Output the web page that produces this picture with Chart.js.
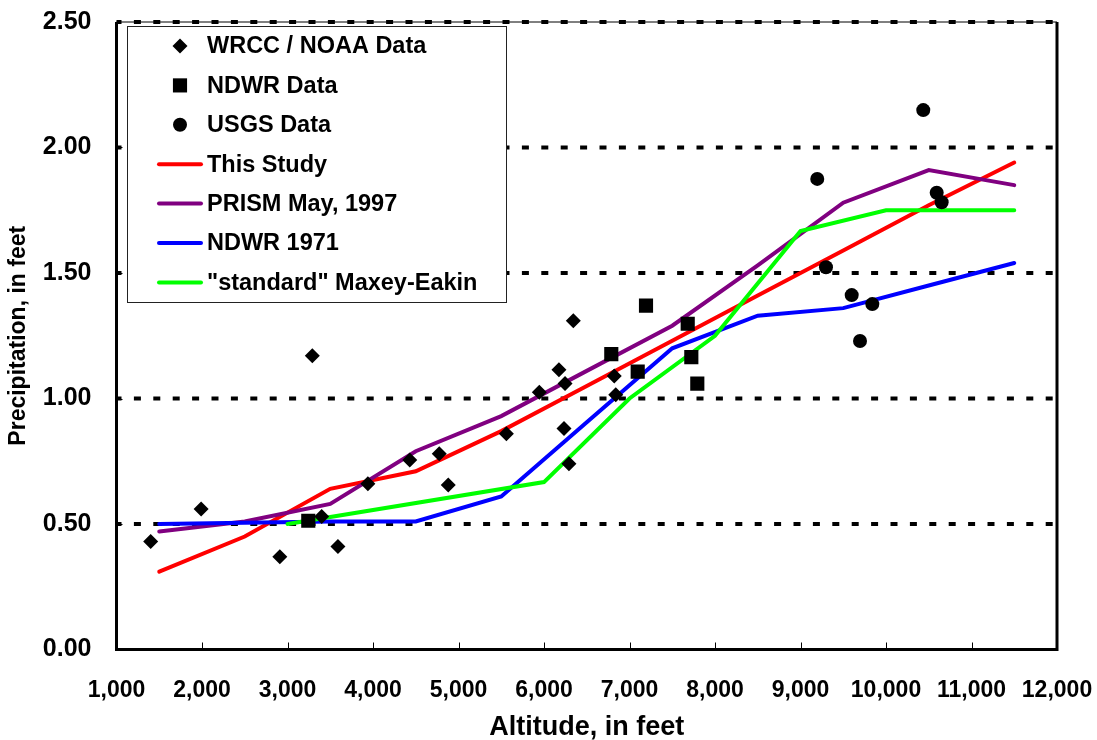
<!DOCTYPE html>
<html>
<head>
<meta charset="utf-8">
<title>Precipitation vs Altitude</title>
<script src="https://cdn.jsdelivr.net/npm/chart.js@4.4.0/dist/chart.umd.min.js"></script>
<style>
  html, body { margin: 0; padding: 0; background: #fff; }
  .chart-wrap { position: relative; width: 1097px; height: 740px; }
</style>
</head>
<body>
<div class="chart-wrap"><canvas id="precipChart"></canvas></div>
<script>
// point data (altitude in feet, precipitation in feet)
const wrccAlt = [1400, 1990, 2910, 3290, 3400, 3590, 3940, 4430, 4775, 4880, 5560, 5945, 6175, 6246, 6234, 6292, 6343, 6822, 6839];
const wrccPrecip = [0.43, 0.56, 0.37, 1.17, 0.53, 0.41, 0.66, 0.755, 0.78, 0.655, 0.86, 1.025, 1.115, 1.06, 0.88, 0.74, 1.31, 1.09, 1.015];

const ndwrAlt = [3243, 6787, 7096, 7193, 7681, 7723, 7793];
const ndwrPrecip = [0.513, 1.177, 1.107, 1.37, 1.298, 1.165, 1.059];

const usgsAlt = [9196, 9298, 9599, 9696, 9840, 10436, 10593, 10651];
const usgsPrecip = [1.875, 1.523, 1.412, 1.229, 1.376, 2.149, 1.82, 1.782];

// curves
const curveAlt = [1500, 2500, 3500, 4500, 5500, 6500, 7500, 8500, 9500, 10500, 11500];
const thisStudy = [0.31, 0.45, 0.64, 0.71, 0.87, 1.05, 1.23, 1.41, 1.59, 1.77, 1.94];
const prism = [0.47, 0.51, 0.58, 0.79, 0.93, 1.11, 1.29, 1.53, 1.78, 1.91, 1.85];
const ndwr1971 = [0.50, 0.505, 0.51, 0.51, 0.61, 0.905, 1.20, 1.33, 1.36, 1.45, 1.54];

const maxeyAlt = [3000, 6000, 7000, 8000, 9000, 10000, 11500];
const maxeyPrecip = [0.50, 0.667, 1.0, 1.25, 1.667, 1.75, 1.75];

const xTickValues = [1000, 2000, 3000, 4000, 5000, 6000, 7000, 8000, 9000, 10000, 11000, 12000];
const yTickValues = [0, 0.5, 1.0, 1.5, 2.0, 2.5];

const FONT = '"Liberation Sans", Arial, sans-serif';

function pairs(xs, ys) {
  return xs.map((x, i) => ({ x, y: ys[i] }));
}

function markerSet(label, xs, ys, style, radius) {
  return {
    label,
    data: pairs(xs, ys),
    showLine: false,
    pointStyle: style,
    pointRadius: radius,
    pointBorderWidth: 0,
    backgroundColor: '#000',
    borderColor: '#000',
    order: 0,
  };
}

function lineSet(label, xs, ys, color, order) {
  return {
    label,
    data: pairs(xs, ys),
    showLine: true,
    borderColor: color,
    backgroundColor: color,
    borderWidth: 4,
    borderCapStyle: 'round',
    pointRadius: 0,
    order,
  };
}

// dashed reference lines, plot frame and inside tick marks
const framePlugin = {
  id: 'frame',
  beforeDatasetsDraw(chart) {
    const { ctx, chartArea: a, scales } = chart;
    ctx.save();
    ctx.strokeStyle = '#000';

    ctx.lineWidth = 4;
    ctx.setLineDash([7, 12.4]);
    ctx.lineDashOffset = 2;
    yTickValues.filter((v) => v > 0).forEach((v) => {
      const y = scales.y.getPixelForValue(v);
      ctx.beginPath();
      ctx.moveTo(a.left, y);
      ctx.lineTo(a.right - 4, y);
      ctx.stroke();
    });
    ctx.setLineDash([]);

    ctx.lineWidth = 1;
    ctx.beginPath();
    ctx.moveTo(a.left, a.top);
    ctx.lineTo(a.right, a.top);
    ctx.stroke();

    ctx.lineWidth = 3;
    ctx.beginPath();
    ctx.moveTo(a.left, a.top);
    ctx.lineTo(a.left, a.bottom);
    ctx.lineTo(a.right, a.bottom);
    ctx.lineTo(a.right, a.top);
    ctx.stroke();

    ctx.lineWidth = 1;
    ctx.beginPath();
    xTickValues.slice(1, -1).forEach((v) => {
      const x = Math.round(scales.x.getPixelForValue(v)) + 0.5;
      ctx.moveTo(x, a.bottom);
      ctx.lineTo(x, a.bottom - 7);
    });
    yTickValues.slice(1, -1).forEach((v) => {
      const y = Math.round(scales.y.getPixelForValue(v)) + 0.5;
      ctx.moveTo(a.left, y);
      ctx.lineTo(a.left + 6, y);
    });
    ctx.stroke();
    ctx.restore();
  },
};

// boxed legend inside the plot, top left
const boxLegendPlugin = {
  id: 'boxLegend',
  afterDraw(chart) {
    const { ctx } = chart;
    const box = { x: 127.5, y: 26.5, w: 379, h: 276 };
    ctx.save();
    ctx.fillStyle = '#fff';
    ctx.fillRect(box.x, box.y, box.w, box.h);
    ctx.strokeStyle = '#222';
    ctx.lineWidth = 1;
    ctx.strokeRect(box.x, box.y, box.w, box.h);

    ctx.font = `bold 23.5px ${FONT}`;
    ctx.textBaseline = 'middle';
    chart.data.datasets.forEach((ds, i) => {
      const y = 46 + i * 39.4;
      if (ds.showLine) {
        ctx.strokeStyle = ds.borderColor;
        ctx.lineWidth = 4;
        ctx.lineCap = 'round';
        ctx.beginPath();
        ctx.moveTo(159, y);
        ctx.lineTo(201, y);
        ctx.stroke();
      } else {
        ctx.fillStyle = '#000';
        Chart.helpers.drawPoint(ctx, { pointStyle: ds.pointStyle, radius: ds.pointRadius, rotation: 0, borderWidth: 0 }, 180, y);
      }
      ctx.fillStyle = '#000';
      ctx.fillText(ds.label, 207, y + 1);
    });
    ctx.restore();
  },
};

function zeroPadding(scale) {
  scale.paddingTop = 0;
  scale.paddingBottom = 0;
  scale.paddingLeft = 0;
  scale.paddingRight = 0;
}

function renderChart() {
  const canvas = document.getElementById('precipChart');
  const datasets = [
    markerSet('WRCC / NOAA Data', wrccAlt, wrccPrecip, 'rectRot', 7.5),
    markerSet('NDWR Data', ndwrAlt, ndwrPrecip, 'rect', 10),
    markerSet('USGS Data', usgsAlt, usgsPrecip, 'circle', 7),
    lineSet('This Study', curveAlt, thisStudy, '#ff0000', 4),
    lineSet('PRISM May, 1997', curveAlt, prism, '#800080', 3),
    lineSet('NDWR 1971', curveAlt, ndwr1971, '#0000ff', 2),
    lineSet('"standard" Maxey-Eakin', maxeyAlt, maxeyPrecip, '#00ff00', 1),
  ];

  return new Chart(canvas, {
    type: 'scatter',
    data: { datasets },
    plugins: [framePlugin, boxLegendPlugin],
    options: {
      responsive: true,
      maintainAspectRatio: false,
      animation: false,
      layout: { padding: { top: 22, right: 40, left: 0, bottom: 0 } },
      plugins: {
        legend: { display: false },
        tooltip: { enabled: false },
      },
      scales: {
        x: {
          type: 'linear',
          min: 1000,
          max: 12000,
          grid: { display: false, drawTicks: false },
          border: { display: false },
          afterBuildTicks(scale) {
            scale.ticks = xTickValues.map((value) => ({ value }));
          },
          afterFit(scale) {
            scale.height = 90.5;
            zeroPadding(scale);
          },
          ticks: {
            autoSkip: false,
            maxRotation: 0,
            padding: 27,
            color: '#000',
            font: { family: FONT, size: 23, weight: 'bold' },
            callback: (v) => Number(v).toLocaleString('en-US'),
          },
          title: {
            display: true,
            text: 'Altitude, in feet',
            color: '#000',
            font: { family: FONT, size: 27, weight: 'bold', lineHeight: 0.9 },
            padding: { top: 0, bottom: 0 },
          },
        },
        y: {
          min: 0,
          max: 2.5,
          grid: { display: false, drawTicks: false },
          border: { display: false },
          afterBuildTicks(scale) {
            scale.ticks = yTickValues.map((value) => ({ value }));
          },
          afterFit(scale) {
            scale.width = 116.5;
            zeroPadding(scale);
          },
          ticks: {
            padding: 25,
            color: '#000',
            font: { family: FONT, size: 25, weight: 'bold' },
            callback: (v) => Number(v).toFixed(2),
          },
          title: {
            display: true,
            text: 'Precipitation, in feet',
            color: '#000',
            font: { family: FONT, size: 23, weight: 'bold' },
            padding: { top: 5, bottom: 0 },
          },
        },
      },
    },
  });
}

renderChart();
</script>
</body>
</html>
